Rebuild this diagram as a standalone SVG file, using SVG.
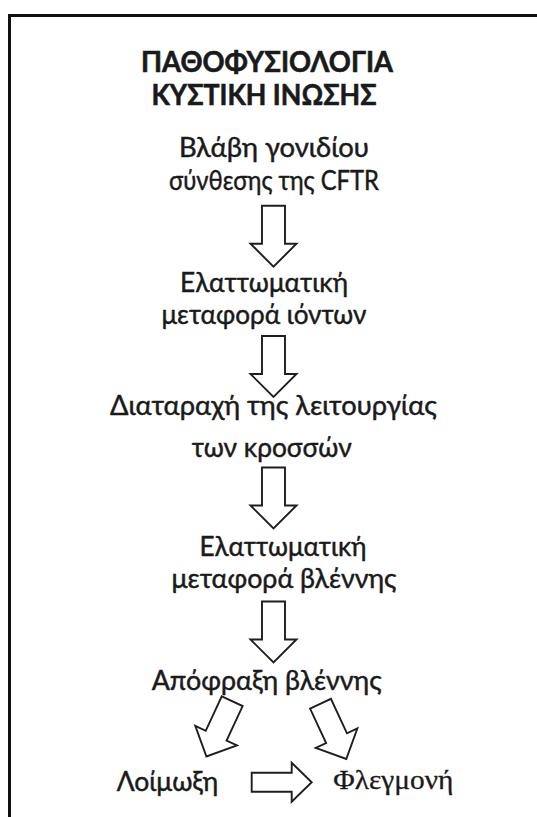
<svg xmlns="http://www.w3.org/2000/svg" width="537" height="817" viewBox="0 0 537 817">
<style>
  .t { font-family: Lato, "Noto Sans", "Open Sans", sans-serif; font-size: 26px; fill: #1a1a1a; stroke: #1a1a1a; stroke-width: 0.45; text-anchor: middle; }
  .b { font-size: 28px; font-weight: bold; stroke-width: 0.6; }
  .s { font-family: "Liberation Serif", "DejaVu Serif", serif; font-size: 27px; fill: #1a1a1a; stroke: #1a1a1a; stroke-width: 0.3; }
  .arr { fill: #ffffff; stroke: #1e1e1e; stroke-width: 1.9; stroke-linejoin: miter; }
</style>
<defs>
  <path id="down" d="M -11.5 0 L 11.5 0 L 11.5 38 L 23 38 L 0 61 L -23 38 L -11.5 38 Z"/>
</defs>
<rect width="537" height="817" fill="#ffffff"/>
<rect id="frame" x="9.5" y="15.5" width="600" height="900" fill="none" stroke="#111111" stroke-width="3"/>

<g id="title">
  <text class="t b" x="267" y="71.5" textLength="252" lengthAdjust="spacingAndGlyphs">ΠΑΘΟΦΥΣΙΟΛΟΓΙΑ</text>
  <text class="t b" x="264" y="105" textLength="225" lengthAdjust="spacingAndGlyphs">ΚΥΣΤΙΚΗ ΙΝΩΣΗΣ</text>
</g>
<g id="n1">
  <text class="t" x="274" y="156.5" textLength="190" lengthAdjust="spacingAndGlyphs">Βλάβη γονιδίου</text>
  <text class="t" x="274" y="190" textLength="210" lengthAdjust="spacingAndGlyphs">σύνθεσης της CFTR</text>
</g>
<g id="n2">
  <text class="t" x="264" y="292" textLength="168" lengthAdjust="spacingAndGlyphs">Ελαττωματική</text>
  <text class="t" x="264" y="324" textLength="205" lengthAdjust="spacingAndGlyphs">μεταφορά ιόντων</text>
</g>
<g id="n3">
  <text class="t" x="273.5" y="415" textLength="327" lengthAdjust="spacingAndGlyphs">Διαταραχή της λειτουργίας</text>
  <text class="t" x="271.7" y="456.5" textLength="160" lengthAdjust="spacingAndGlyphs">των κροσσών</text>
</g>
<g id="n4">
  <text class="t" x="283" y="555.5" textLength="167" lengthAdjust="spacingAndGlyphs">Ελαττωματική</text>
  <text class="t" x="284" y="587.5" textLength="225" lengthAdjust="spacingAndGlyphs">μεταφορά βλέννης</text>
</g>
<g id="n5">
  <text class="t" x="266.7" y="690" textLength="230" lengthAdjust="spacingAndGlyphs">Απόφραξη βλέννης</text>
</g>
<g id="n6">
  <text class="t" x="167.5" y="790.5" textLength="101.6" lengthAdjust="spacingAndGlyphs">Λοίμωξη</text>
</g>
<g id="n7">
  <text class="s" x="333.3" y="788.5" textLength="120" lengthAdjust="spacingAndGlyphs">Φλεγμονή</text>
</g>

<g id="connectors">
  <use href="#down" class="arr" transform="translate(273.5,205.7)"/>
  <use href="#down" class="arr" transform="translate(273.5,336)"/>
  <use href="#down" class="arr" transform="translate(273.5,467.5)"/>
  <use href="#down" class="arr" transform="translate(273.5,601.5)"/>
  <use href="#down" class="arr" transform="translate(232.2,701.2) rotate(25)"/>
  <use href="#down" class="arr" transform="translate(320.5,703.7) rotate(-25)"/>
  <path class="arr" d="M 251.7 772.7 L 291.7 772.7 L 291.7 762.7 L 311.7 782.3 L 291.7 801.7 L 291.7 791.7 L 251.7 791.7 Z"/>
</g>
</svg>
